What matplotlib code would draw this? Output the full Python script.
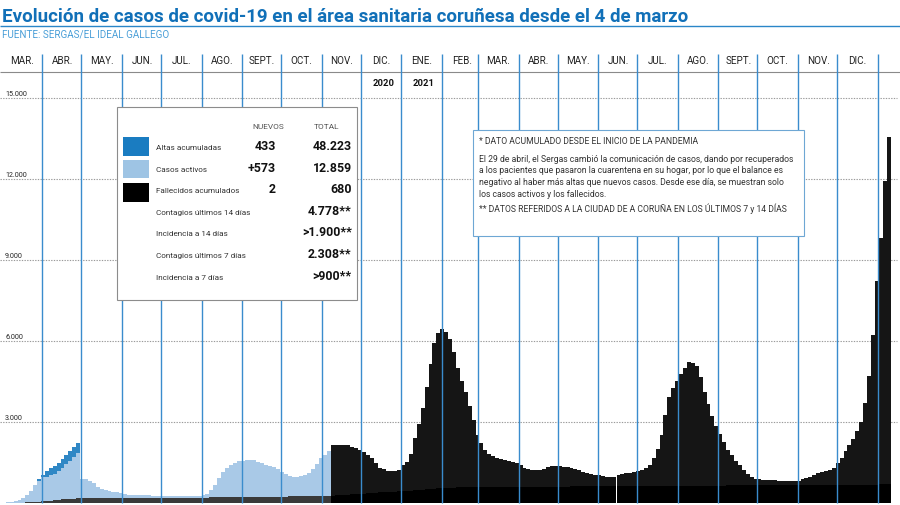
import numpy as np
import pandas as pd
import matplotlib
matplotlib.use('Agg')
import matplotlib.pyplot as plt
import matplotlib.dates as mdates
from matplotlib.patches import Rectangle

plt.rcParams['font.family'] = ['Roboto', 'DejaVu Sans']

# datos cada 3 días desde el 4 de marzo de 2020
casos_activos = [
    20, 40, 59, 87, 164, 270, 424, 616, 784, 890,
    905, 940, 985, 1060, 1158, 1282, 1403, 1545, 1688, 717,
    702, 628, 545, 422, 340, 278, 247, 221, 195, 160,
    134, 109, 98, 93, 88, 84, 80, 74, 68, 61,
    57, 54, 51, 48, 45, 44, 44, 46, 50, 59,
    89, 148, 267, 456, 705, 923, 1081, 1189, 1277, 1325,
    1348, 1361, 1374, 1362, 1305, 1253, 1181, 1139, 1097, 1015,
    903, 821, 759, 732, 735, 753, 791, 869, 1006, 1203,
    1400, 1507, 1643, 1869, 1870, 1860, 1840, 1820, 1770, 1710,
    1630, 1540, 1410, 1280, 1091, 922, 843, 794, 780, 771,
    777, 948, 1059, 1349, 1939, 2428, 3017, 3805, 4643, 5382,
    5772, 5882, 5793, 5495, 5038, 4432, 3927, 3523, 3020, 2467,
    1915, 1613, 1362, 1231, 1130, 1059, 1028, 998, 967, 916,
    866, 795, 705, 634, 614, 613, 623, 652, 712, 751,
    761, 750, 740, 720, 699, 649, 599, 548, 498, 458,
    427, 407, 387, 356, 336, 356, 405, 455, 485, 504,
    524, 554, 593, 663, 792, 1042, 1391, 1890, 2639, 3288,
    3636, 3884, 4162, 4380, 4598, 4556, 4424, 4022, 3470, 3018,
    2567, 2215, 1914, 1613, 1312, 1111, 920, 739, 558, 417,
    317, 246, 216, 205, 195, 190, 179, 169, 163, 158,
    158, 162, 172, 212, 261, 321, 381, 440, 480, 520,
    561, 648, 806, 994, 1242, 1490, 1688, 1986, 2334, 3032,
    4030, 5528, 7526, 9124, 11222, 12859,
]
fallecidos = [
    0, 0, 1, 3, 6, 10, 16, 24, 36, 50,
    65, 80, 95, 110, 122, 133, 142, 150, 157, 163,
    168, 172, 175, 178, 180, 182, 183, 184, 185, 185,
    186, 186, 187, 187, 187, 188, 188, 188, 188, 189,
    189, 189, 189, 189, 190, 190, 190, 190, 190, 191,
    191, 192, 193, 194, 195, 197, 199, 201, 203, 205,
    207, 209, 211, 213, 215, 217, 219, 221, 223, 225,
    227, 229, 231, 233, 235, 237, 239, 241, 244, 247,
    250, 253, 257, 261, 270, 280, 290, 300, 310, 320,
    330, 340, 350, 360, 369, 378, 387, 396, 405, 414,
    423, 432, 441, 451, 461, 472, 483, 495, 507, 518,
    528, 538, 547, 555, 562, 568, 573, 577, 580, 583,
    585, 587, 588, 589, 590, 591, 592, 592, 593, 594,
    594, 595, 595, 596, 596, 597, 597, 598, 598, 599,
    599, 600, 600, 600, 601, 601, 601, 602, 602, 602,
    603, 603, 603, 604, 604, 604, 605, 605, 605, 606,
    606, 606, 607, 607, 608, 608, 609, 610, 611, 612,
    614, 616, 618, 620, 622, 624, 626, 628, 630, 632,
    633, 635, 636, 637, 638, 639, 640, 641, 642, 643,
    643, 644, 644, 645, 645, 645, 646, 646, 647, 647,
    647, 648, 648, 648, 649, 649, 649, 650, 650, 650,
    650, 652, 654, 656, 658, 660, 662, 664, 666, 668,
    670, 672, 674, 676, 678, 680,
]
# altas acumuladas, solo hasta el 29 de abril
altas = [0, 0, 0, 0, 0, 0, 0, 0, 40, 100, 190, 250, 290, 310, 330, 345, 355, 365, 375]

meses = ['MAR.', 'ABR.', 'MAY.', 'JUN.', 'JUL.', 'AGO.', 'SEPT.', 'OCT.', 'NOV.', 'DIC.', 'ENE.',
         'FEB.', 'MAR.', 'ABR.', 'MAY.', 'JUN.', 'JUL.', 'AGO.', 'SEPT.', 'OCT.', 'NOV.', 'DIC.']
y_ticks = [3000, 6000, 9000, 12000, 15000]
y_labels = ['3.000', '6.000', '9.000', '12.000', '15.000']

leyenda = ['Altas acumuladas', 'Casos activos', 'Fallecidos acumulados']
nuevos = ['433', '+573', '2']
totales = ['48.223', '12.859', '680']
extra = [('Contagios últimos 14 días', '4.778**'), ('Incidencia a 14 días', '>1.900**'),
         ('Contagios últimos 7 días', '2.308**'), ('Incidencia a 7 días', '>900**')]

nota = ['El 29 de abril, el Sergas cambió la comunicación de casos, dando por recuperados',
        'a los pacientes que pasaron la cuarentena en su hogar, por lo que el balance es',
        'negativo al haber más altas que nuevos casos. Desde ese día, se muestran solo',
        'los casos activos y los fallecidos.']

AZUL = '#1a7cc1'
AZUL_CLARO = '#a9c9e7'
LINEA_MES = '#3a8ccd'

W, H = 900, 505
fig = plt.figure(figsize=(W / 100, H / 100), dpi=100)
ax = fig.add_axes([0, 0, 1, 1])
ax.set_axis_off()

# escala en pixeles del original
ABR1 = mdates.date2num(pd.Timestamp('2020-04-01'))
PX_DIA = 1.305
Y0 = 502.7
PX_VAL = 81 / 3000


def xd(px):
    return ABR1 + (px - 42.3) / PX_DIA


def yd(py):
    return (Y0 - py) / PX_VAL


ax.set_xlim(xd(0), xd(W))
ax.set_ylim(yd(H), yd(0))

fechas = pd.date_range('2020-03-04', periods=len(casos_activos), freq='3D')
x = mdates.date2num(fechas)
act = np.array(casos_activos)
fal = np.array(fallecidos)
cambio = pd.Timestamp('2020-11-08')
col_act = [AZUL_CLARO if f < cambio else '#151515' for f in fechas]
col_fal = ['#3a3a3a' if f < cambio else '#000000' for f in fechas]

ANCHO = 3.0
ax.bar(x, fal, width=ANCHO, align='edge', color=col_fal, lw=0, zorder=2)
ax.bar(x, act, bottom=fal, width=ANCHO, align='edge', color=col_act, lw=0, zorder=2)
n = len(altas)
ax.bar(x[:n], altas, bottom=fal[:n] + act[:n], width=ANCHO, align='edge', color='#2f87c5', lw=0, zorder=2)

renderer = fig.canvas.get_renderer()


def ajustar(t, ancho):
    w = t.get_window_extent(renderer).width
    t.set_fontsize(t.get_fontsize() * ancho / w)
    return t.get_fontsize()


# lineas de referencia
fs_y = None
for v, lab in zip(y_ticks[::-1], y_labels[::-1]):
    ax.hlines(v, xd(0), xd(897), color='#9a9a9a', lw=0.8, linestyles=(0, (1.2, 1.2)), zorder=1)
    t = ax.text(5 / W, v + 2 / PX_VAL, lab, transform=ax.get_yaxis_transform(), fontsize=5,
                color='#222222', va='baseline', ha='left')
    if fs_y is None:
        fs_y = ajustar(t, 22)
    t.set_fontsize(fs_y)

inicios = pd.date_range('2020-04-01', '2022-01-01', freq='MS')
ax.vlines(mdates.date2num(inicios), yd(503), yd(54), color=LINEA_MES, lw=1.0, zorder=4)
ax.hlines(yd(72), xd(0), xd(W), color='#8a8a8a', lw=0.8, zorder=3)
ax.hlines(yd(25.7), xd(0), xd(W), color='#2a86c8', lw=1.0, zorder=3)

centros = mdates.date2num(pd.date_range('2020-03-01', periods=len(meses), freq='MS')) + 15.5
fs_mes = None
for c, m in zip(centros, meses):
    t = ax.text(c, yd(64.3), m, ha='center', va='baseline', fontsize=7, color='#222222')
    if fs_mes is None:
        fs_mes = ajustar(t, 24)
    t.set_fontsize(fs_mes)

for anio, px in [('2020', 383.3), ('2021', 423.3)]:
    t = ax.text(xd(px), yd(85.8), anio, ha='center', va='baseline', fontsize=7,
                weight='bold', color='#111111')
    ajustar(t, 21.7)


def ft(px, py, s, **kw):
    return fig.text(px / W, 1 - py / H, s, **kw)


def caja(x0, y0, x1, y1, **kw):
    r = Rectangle((x0 / W, 1 - y1 / H), (x1 - x0) / W, (y1 - y0) / H,
                  transform=fig.transFigure, **kw)
    fig.add_artist(r)


# titulo
t = ft(2, 21.7, 'Evolución de casos de covid-19 en el área sanitaria coruñesa desde el 4 de marzo',
       fontsize=13, weight='bold', color='#1170b8', va='baseline')
ajustar(t, 688)
t = ft(2, 37.3, 'FUENTE: SERGAS/EL IDEAL GALLEGO', fontsize=6, color='#4a9fd8', va='baseline')
ajustar(t, 168)

# cuadro de leyenda
caja(117.3, 107.3, 357.3, 300, fc='white', ec='#8c8c8c', lw=0.8, zorder=5)
t = ft(268, 129.3, 'NUEVOS', ha='center', va='baseline', fontsize=6, color='#555555', zorder=6)
fs_cab = ajustar(t, 32)
ft(326.7, 129.3, 'TOTAL', ha='center', va='baseline', fontsize=fs_cab, color='#555555', zorder=6)

filas = [150, 171.7, 193.3, 215, 236.5, 258, 279.5]
sw = [(137.3, 156), (160, 178.3), (183.3, 201.7)]
t = ft(155.7, filas[2], leyenda[2], va='baseline', fontsize=6, color='#333333', zorder=6)
fs_lab = ajustar(t, 84)
t = ft(351.7, filas[0], totales[0], ha='right', va='baseline', fontsize=9, weight='bold',
       color='#111111', zorder=6)
fs_val = ajustar(t, 39.3)
colores = [AZUL, '#9ec4e4', '#000000']
for i in range(3):
    caja(123.3, sw[i][0], 149.3, sw[i][1], fc=colores[i], ec='none', zorder=6)
    if i != 2:
        ft(155.7, filas[i], leyenda[i], va='baseline', fontsize=fs_lab, color='#333333', zorder=6)
    ft(276, filas[i], nuevos[i], ha='right', va='baseline', fontsize=fs_val, weight='bold',
       color='#111111', zorder=6)
    if i != 0:
        ft(351.7, filas[i], totales[i], ha='right', va='baseline', fontsize=fs_val, weight='bold',
           color='#111111', zorder=6)
for j, (lab, val) in enumerate(extra):
    ft(155.7, filas[3 + j], lab, va='baseline', fontsize=fs_lab, color='#333333', zorder=6)
    ft(351.7, filas[3 + j], val, ha='right', va='baseline', fontsize=fs_val, weight='bold',
       color='#111111', zorder=6)

# nota
caja(473.3, 130, 804.3, 236, fc='white', ec='#6ea7d4', lw=0.8, zorder=5)
t = ft(479.3, 161.7, nota[0], va='baseline', fontsize=6, color='#333333', zorder=6)
fs_nota = ajustar(t, 315.7)
for k, linea in enumerate(nota[1:]):
    ft(479.3, 161.7 + 11.67 * (k + 1), linea, va='baseline', fontsize=fs_nota, color='#333333', zorder=6)
ft(479.3, 144.3, '* DATO ACUMULADO DESDE EL INICIO DE LA PANDEMIA', va='baseline',
   fontsize=fs_nota, color='#333333', zorder=6)
ft(479.3, 212.3, '** DATOS REFERIDOS A LA CIUDAD DE A CORUÑA EN LOS ÚLTIMOS 7 y 14 DÍAS',
   va='baseline', fontsize=fs_nota, color='#333333', zorder=6)

fig.savefig('out.png', dpi=100)
